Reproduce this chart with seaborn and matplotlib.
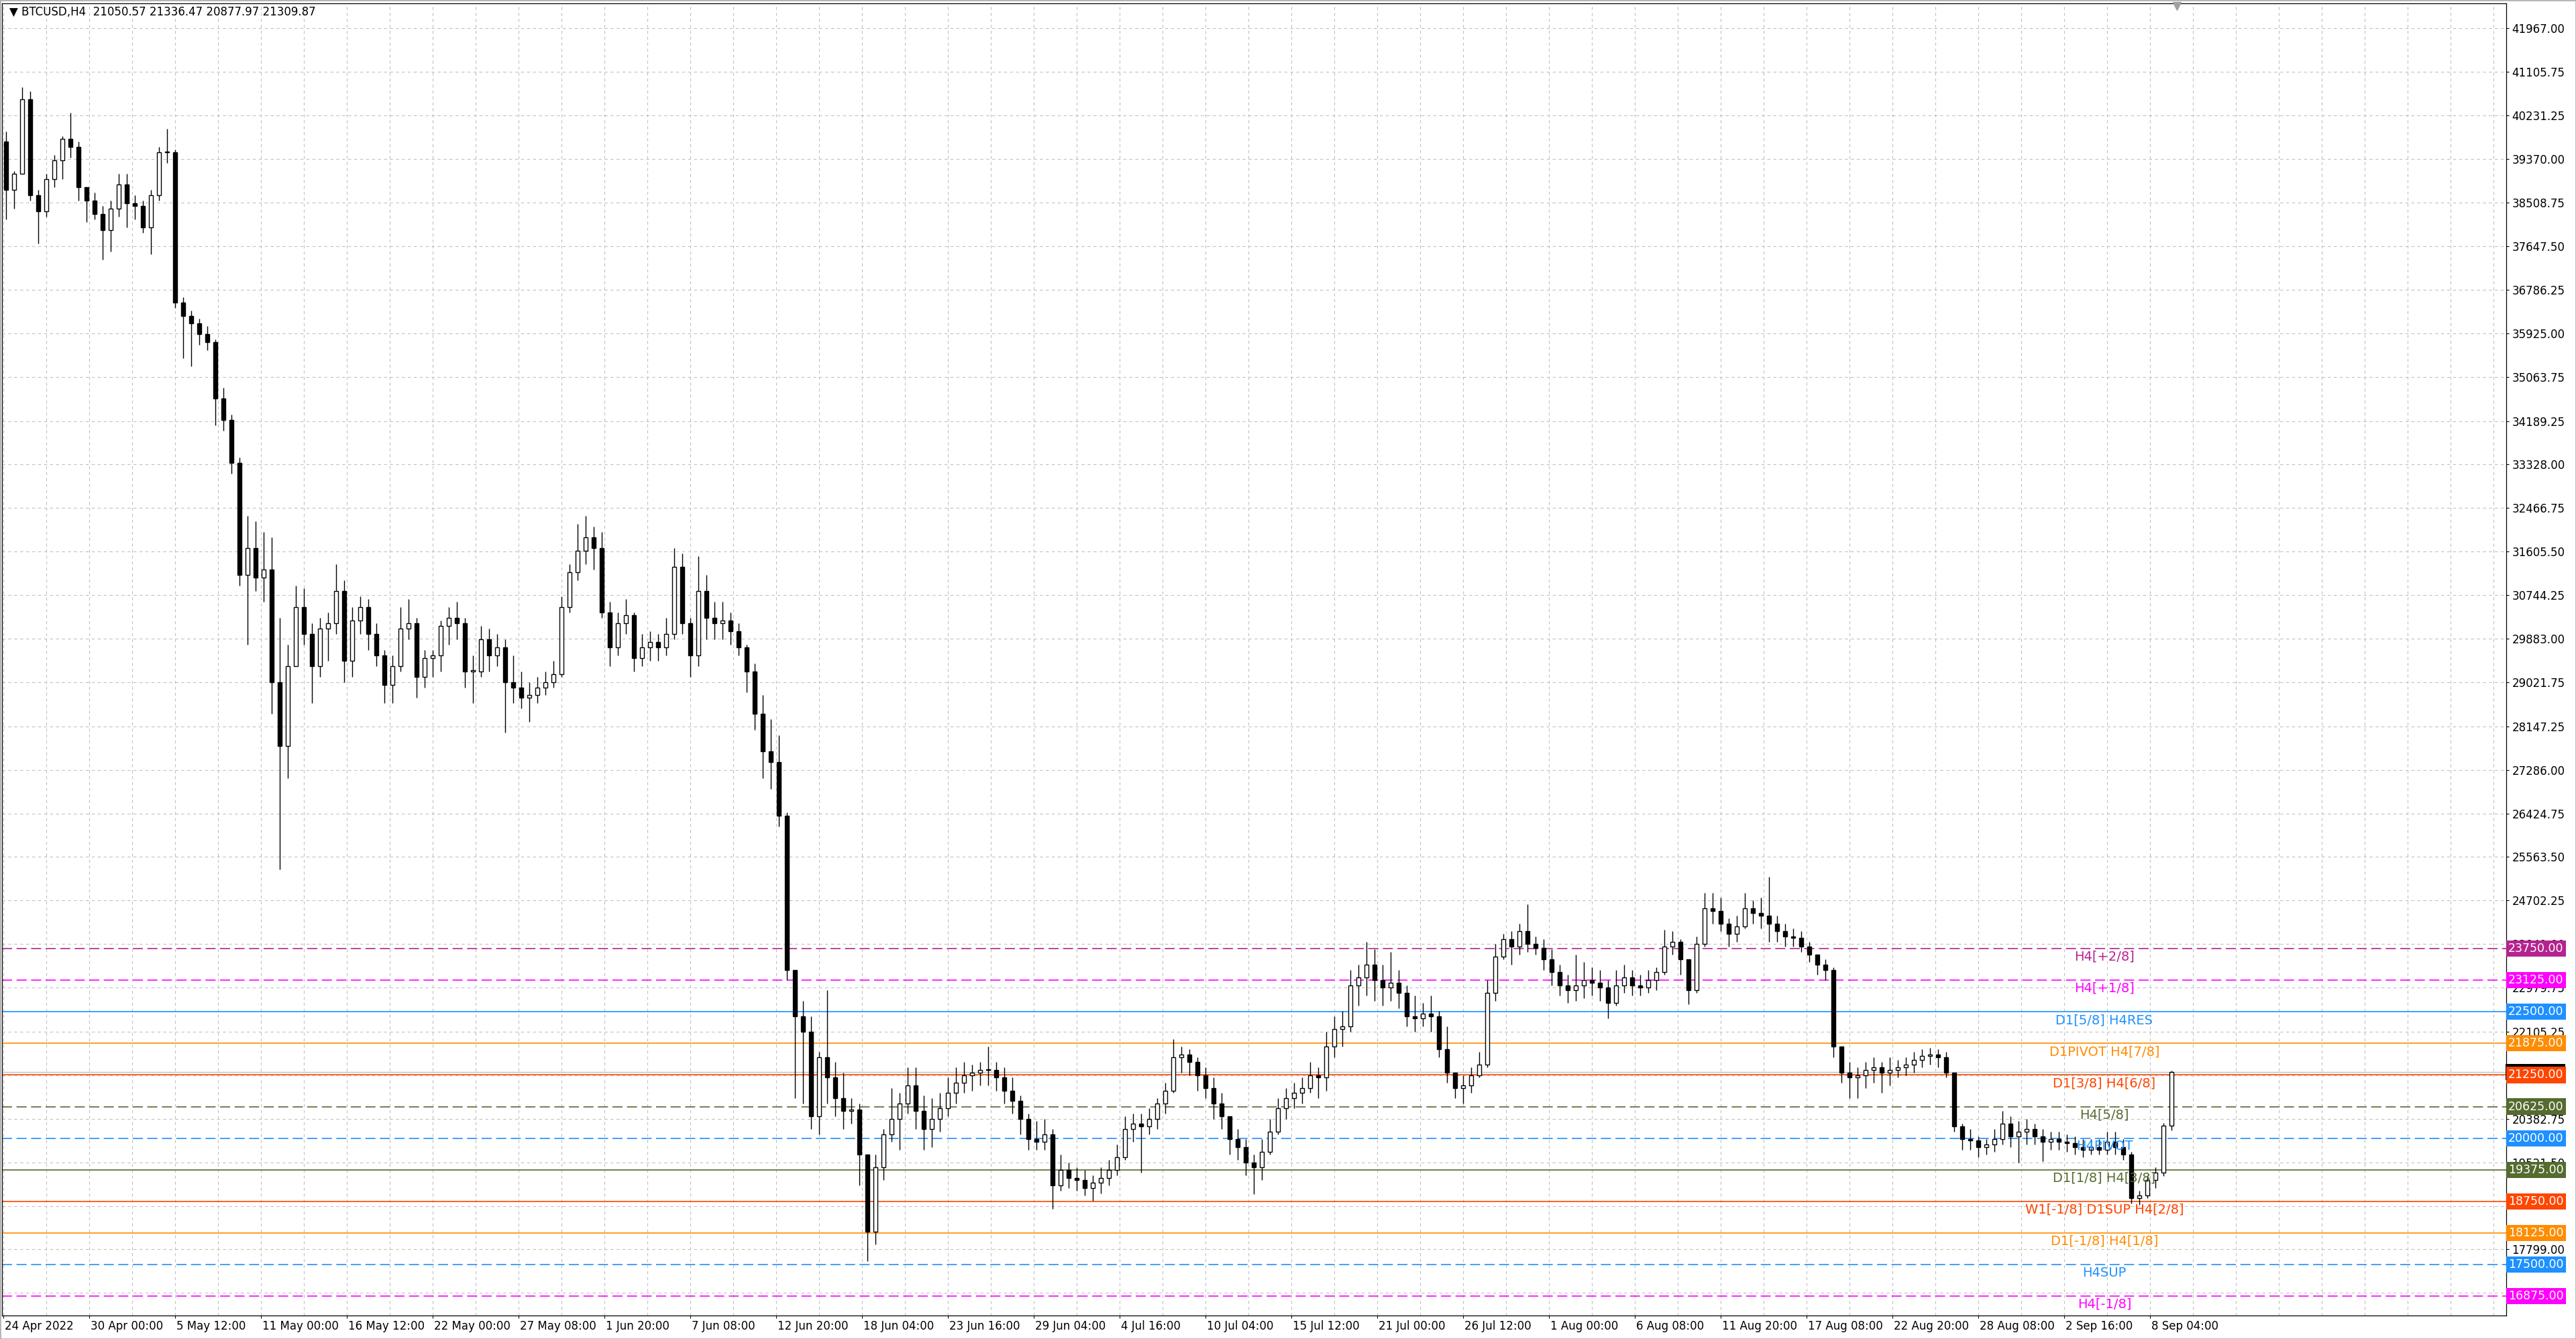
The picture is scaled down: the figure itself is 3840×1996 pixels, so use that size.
import numpy as np
import pandas as pd
import matplotlib
matplotlib.use('Agg')
import matplotlib.pyplot as plt
import matplotlib.transforms as mtransforms
from matplotlib.patches import Rectangle
import seaborn as sns

sns.set_style('white')
plt.rcParams['font.family'] = ['DejaVu Sans']

# 12h candles (3 H4 bars per candle), open = previous close
first_open = 39713
candle_high = [
    39924, 39131, 40792, 40718, 38761, 39078, 39448, 39820, 40295, 39713,
    38761, 38708, 38443, 38549, 39078, 39078, 38655, 38549, 38761, 39607,
    39977, 39554, 36645, 36380, 36221, 36063, 35798, 34846, 34317, 33471,
    32307, 32201, 31989, 31884, 30297, 29768, 30931, 30878, 30191, 30297,
    30402, 31355, 31037, 30508, 30720, 30667, 30191, 29662, 29556, 30508,
    30667, 30297, 29662, 29662, 30244, 30508, 30614, 30297, 29556, 30138,
    30085, 29979, 29873, 29556, 29239, 29027, 29133, 29239, 29450, 30720,
    31355, 32148, 32307, 32095, 31989, 30614, 30402, 30667, 30402, 29979,
    30032, 29979, 30297, 31672, 31566, 30297, 31513, 31143, 30614, 30614,
    30402, 30191, 29768, 29397, 28763, 28286, 27969, 26450, 23027, 22722,
    22417, 21706, 22925, 21503, 21300, 20792, 20690, 19674, 19674, 20182,
    20995, 20893, 21401, 21401, 20842, 20792, 20893, 21198, 21401, 21503,
    21452, 21503, 21808, 21503, 21401, 21198, 20842, 20487, 20334, 20385,
    20182, 19674, 19521, 19420, 19369, 19268, 19420, 19572, 19877, 20436,
    20487, 20487, 20588, 20792, 21096, 21960, 21808, 21757, 21604, 21401,
    21198, 20893, 20385, 20182, 19979, 19674, 19979, 20385, 20792, 20995,
    21096, 21198, 21503, 21401, 22112, 22417, 22519, 23332, 23433, 23890,
    23738, 23433, 23687, 23332, 23027, 22824, 22671, 22824, 22519, 22214,
    21300, 21249, 21401, 21706, 23128, 23840, 24043, 24094, 24246, 24627,
    23992, 23941, 23738, 23433, 23230, 23636, 23484, 23382, 23332, 23128,
    23332, 23433, 23332, 23230, 23332, 23382, 24119, 24094, 23941, 23484,
    23992, 24856, 24856, 24754, 24348, 24398, 24856, 24703, 24754, 25171,
    24398, 24246, 24144, 24094, 23890, 23636, 23535, 23382, 21706, 21503,
    21401, 21503, 21604, 21503, 21604, 21554, 21604, 21706, 21757, 21782,
    21757, 21706, 21300, 20284, 20182, 20030, 19979, 20182, 20538, 20436,
    20334, 20385, 20284, 20182, 20131, 20131, 20080, 20030, 19979, 19979,
    19979, 20131, 20131, 19979, 19725, 18963, 19268, 19420, 20300, 21336,
]
candle_low = [
    38179, 38390, 39078, 38549, 37703, 38232, 38813, 38972, 39395, 38549,
    38126, 38179, 37385, 37544, 38232, 38020, 38179, 37914, 37491, 38549,
    39290, 36433, 35428, 35269, 35692, 35587, 34105, 33999, 33153, 30931,
    29768, 30826, 30614, 28392, 25324, 27123, 29344, 29768, 28604, 29133,
    29450, 29979, 29027, 29133, 29979, 29662, 29344, 28604, 28604, 29239,
    29873, 28710, 28921, 29133, 29239, 29768, 29873, 28921, 28604, 29133,
    29239, 29344, 28022, 28604, 28498, 28234, 28604, 28763, 28921, 29133,
    30402, 31037, 31355, 31249, 30297, 29344, 29556, 29979, 29239, 29344,
    29450, 29450, 29556, 29873, 29979, 29133, 29344, 29873, 29873, 29873,
    29768, 29556, 28816, 28075, 27123, 26911, 26170, 23128, 20792, 20690,
    20182, 20080, 20690, 20436, 20182, 20284, 19064, 17566, 17896, 19166,
    19928, 19776, 20487, 20182, 19776, 19826, 20131, 20436, 20690, 20893,
    20944, 21046, 21046, 20944, 20690, 20487, 20080, 19776, 19776, 19776,
    18607, 18963, 19014, 18963, 18861, 18760, 18912, 19064, 19268, 19572,
    19928, 19318, 20080, 20182, 20487, 20893, 21300, 21249, 20944, 20792,
    20385, 20182, 19674, 19572, 19268, 18887, 19166, 19674, 20080, 20385,
    20588, 20690, 20893, 20792, 20944, 21604, 21808, 22112, 22620, 22824,
    22722, 22620, 22722, 22570, 22214, 22112, 22214, 22112, 21604, 21096,
    20792, 20690, 20893, 21198, 21401, 22722, 23535, 23433, 23636, 23687,
    23636, 23332, 23027, 22824, 22671, 22722, 22773, 22824, 22722, 22366,
    22620, 22874, 22824, 22824, 22874, 22925, 23230, 23636, 23230, 22646,
    22874, 23789, 24246, 24094, 23789, 23890, 24144, 24246, 24144, 23890,
    23890, 23789, 23789, 23687, 23484, 23230, 23128, 21604, 21096, 20792,
    20792, 20995, 21096, 20893, 21046, 21198, 21249, 21300, 21401, 21452,
    21401, 21198, 20131, 19776, 19776, 19623, 19674, 19725, 19877, 19826,
    19522, 19877, 19877, 19547, 19776, 19776, 19725, 19674, 19623, 19674,
    19674, 19674, 19674, 19572, 18709, 18684, 18811, 19014, 19250, 20150,
]
candle_close = [
    38761, 39078, 40559, 38655, 38337, 38972, 39343, 39766, 39607, 38813,
    38549, 38285, 37967, 38390, 38866, 38496, 38443, 38020, 38655, 39501,
    39501, 36539, 36274, 36116, 35904, 35745, 34634, 34211, 33365, 31143,
    31672, 31090, 31249, 29027, 27757, 29344, 30508, 29979, 29344, 30085,
    30191, 30826, 29450, 30244, 30508, 29979, 29556, 28974, 29344, 30085,
    30191, 29133, 29503, 29556, 30138, 30297, 30191, 29239, 29239, 29873,
    29556, 29715, 29027, 28921, 28710, 28763, 28921, 29027, 29186, 30508,
    31196, 31619, 31884, 31672, 30402, 29715, 30191, 30350, 29503, 29715,
    29820, 29715, 29979, 31302, 30191, 29556, 30826, 30297, 30191, 30244,
    30032, 29715, 29239, 28392, 27651, 27440, 26382, 23332, 22417, 22112,
    20436, 21604, 21198, 20792, 20538, 20563, 19674, 18150, 19420, 20080,
    20385, 20690, 21046, 20538, 20182, 20385, 20588, 20893, 21096, 21249,
    21300, 21350, 21350, 21198, 20944, 20741, 20385, 19979, 19928, 20080,
    19064, 19369, 19217, 19166, 19014, 19115, 19217, 19369, 19623, 20182,
    20284, 20233, 20385, 20690, 20944, 21604, 21655, 21503, 21249, 20995,
    20690, 20436, 19979, 19826, 19521, 19420, 19725, 20131, 20588, 20792,
    20893, 20995, 21249, 21198, 21808, 22163, 22214, 23027, 23179, 23433,
    23128, 22976, 23078, 22874, 22417, 22366, 22468, 22417, 21757, 21300,
    20995, 21046, 21249, 21452, 22874, 23586, 23941, 23789, 24094, 23840,
    23763, 23535, 23281, 23027, 22925, 23027, 23128, 23078, 22976, 22671,
    23027, 23179, 23027, 22976, 23128, 23281, 23789, 23890, 23535, 22925,
    23840, 24551, 24500, 24246, 24043, 24195, 24551, 24449, 24398, 24246,
    24094, 23992, 23967, 23789, 23636, 23433, 23332, 21808, 21300, 21198,
    21249, 21350, 21401, 21300, 21350, 21401, 21452, 21554, 21630, 21655,
    21604, 21300, 20233, 19979, 19953, 19826, 19877, 19979, 20284, 20030,
    20131, 20182, 20030, 19928, 19979, 19928, 19903, 19826, 19776, 19826,
    19776, 19928, 19826, 19674, 18811, 18861, 19166, 19318, 20250, 21310,
]

tick_bars = list(range(0, 801, 32))
tick_labels = ['24 Apr 2022', '30 Apr 00:00', '5 May 12:00', '11 May 00:00', '16 May 12:00',
               '22 May 00:00', '27 May 08:00', '1 Jun 20:00', '7 Jun 08:00', '12 Jun 20:00',
               '18 Jun 04:00', '23 Jun 16:00', '29 Jun 04:00', '4 Jul 16:00', '10 Jul 04:00',
               '15 Jul 12:00', '21 Jul 00:00', '26 Jul 12:00', '1 Aug 00:00', '6 Aug 08:00',
               '11 Aug 20:00', '17 Aug 08:00', '22 Aug 20:00', '28 Aug 08:00', '2 Sep 16:00',
               '8 Sep 04:00']
price_ticks = [41967.00, 41105.75, 40231.25, 39370.00, 38508.75, 37647.50, 36786.25, 35925.00,
               35063.75, 34189.25, 33328.00, 32466.75, 31605.50, 30744.25, 29883.00, 29021.75,
               28147.25, 27286.00, 26424.75, 25563.50, 24702.25, 23841.00, 22979.75, 22105.25,
               21244.00, 20382.75, 19521.50, 18660.25, 17799.00, 16937.75]
# these two scale labels sit fully behind the price boxes in the reference
hidden_ticks = [21244.00, 18660.25]

levels = [23750, 23125, 22500, 21875, 21250, 20625, 20000, 19375, 18750, 18125, 17500, 16875]
level_names = ['H4[+2/8]', 'H4[+1/8]', 'D1[5/8] H4RES', 'D1PIVOT H4[7/8]', 'D1[3/8] H4[6/8]',
               'H4[5/8]', 'H4PIVOT', 'D1[1/8] H4[3/8]', 'W1[-1/8] D1SUP H4[2/8]',
               'D1[-1/8] H4[1/8]', 'H4SUP', 'H4[-1/8]']
level_colors = ['#B5238F', '#FF00FF', '#1E90FF', '#FF8C00', '#FF4500', '#556B2F',
                '#1E90FF', '#556B2F', '#FF4500', '#FF8C00', '#1E90FF', '#FF00FF']
level_dashed = [True, True, False, False, False, True, True, False, False, False, True, True]

last_price = 21309.87
header = '\u25bc BTCUSD,H4  21050.57 21336.47 20877.97 21309.87'

# build candles
df = pd.DataFrame({'high': candle_high, 'low': candle_low, 'close': candle_close})
df['open'] = df['close'].shift(1).fillna(first_open)
df['high'] = df[['high', 'open', 'close']].max(axis=1)
df['low'] = df[['low', 'open', 'close']].min(axis=1)
df['x'] = df.index * 3 + 1
df['up'] = df['close'] >= df['open']
df['body_lo'] = df[['open', 'close']].min(axis=1)
df['body_h'] = (df['close'] - df['open']).abs().clip(lower=18)

W, H = 3840, 1996
fig = plt.figure(figsize=(W / 100, H / 100), dpi=100)
ax = fig.add_axes([3 / W, 35 / H, (3736 - 3) / W, (1991 - 35) / H])
ax.set_xlim(-0.5, 932.75)
ax.set_ylim(16491, 42453)
ax.set_facecolor('white')

# grid
for v in price_ticks:
    ax.axhline(v, color='#C0C0C0', lw=0.8, ls=(0, (4, 4)), zorder=0)
for b in range(0, 933, 16):
    ax.axvline(b, color='#C0C0C0', lw=0.8, ls=(0, (4, 4)), zorder=0)

# level lines
for lv, name, col, dash in zip(levels, level_names, level_colors, level_dashed):
    ax.axhline(lv, color=col, lw=1.2, ls=(0, (9, 4)) if dash else '-', zorder=1)
ax.axhline(last_price, color='#C0C0C0', lw=1.0, zorder=1)

# candles
ax.vlines(df['x'], df['low'], df['high'], color='black', lw=1.0, zorder=3)
ax.bar(df['x'], df['body_h'], bottom=df['body_lo'], width=1.6,
       color=np.where(df['up'], 'white', 'black'), edgecolor='black', linewidth=1.0, zorder=4)

# level captions
for lv, name, col in zip(levels, level_names, level_colors):
    ax.annotate(name, xy=(783, lv), xytext=(0, -2), textcoords='offset points',
                ha='center', va='top', color=col, fontsize=14, zorder=5)

# axes styling
for s in ax.spines.values():
    s.set_color('black')
    s.set_linewidth(0.9)
ax.yaxis.tick_right()
ax.set_yticks(price_ticks)
ax.set_yticklabels(['' if v in hidden_ticks else f'{v:.2f}' for v in price_ticks])
ax.set_xticks(tick_bars)
ax.set_xticklabels(tick_labels)
ax.tick_params(axis='y', right=True, left=False, length=3, width=0.8, pad=3,
               labelsize=12, colors='black')
ax.tick_params(axis='x', bottom=True, length=3, width=0.8, pad=2, labelsize=12, colors='black')
offset = mtransforms.ScaledTranslation(2 / 100, 0, fig.dpi_scale_trans)
for lab in ax.get_xticklabels():
    lab.set_horizontalalignment('left')
    lab.set_transform(lab.get_transform() + offset)

# price boxes on the right scale
ytrans = ax.get_yaxis_transform()
ax.text(1.0006, last_price, f'{last_price:.2f}', transform=ytrans, ha='left', va='center',
        fontsize=12.5, color='white', clip_on=False, zorder=6,
        bbox=dict(boxstyle='square,pad=0.18', fc='black', ec='none'))
for lv, col in zip(levels, level_colors):
    ax.text(1.0008, lv, f'{lv:.2f}', transform=ytrans, ha='left', va='center',
            fontsize=12.5, color='white', clip_on=False, zorder=7,
            bbox=dict(boxstyle='square,pad=0.18', fc=col, ec='none'))

# header and shift marker
ax.text(11 / 3733, 1 - 13 / 1956, header, transform=ax.transAxes, ha='left', va='center',
        fontsize=12, color='black', zorder=8)
ax.plot([810], [1 - 4 / 1956], marker='v', ms=9, color='#A0A0A0',
        transform=ax.get_xaxis_transform(), clip_on=False, zorder=8)

fig.patches.append(Rectangle((0, 0), 1, 1, transform=fig.transFigure, fill=False,
                             ec='#B4B4B4', lw=2, zorder=10))

fig.savefig('out.png', dpi=100, facecolor='white')
